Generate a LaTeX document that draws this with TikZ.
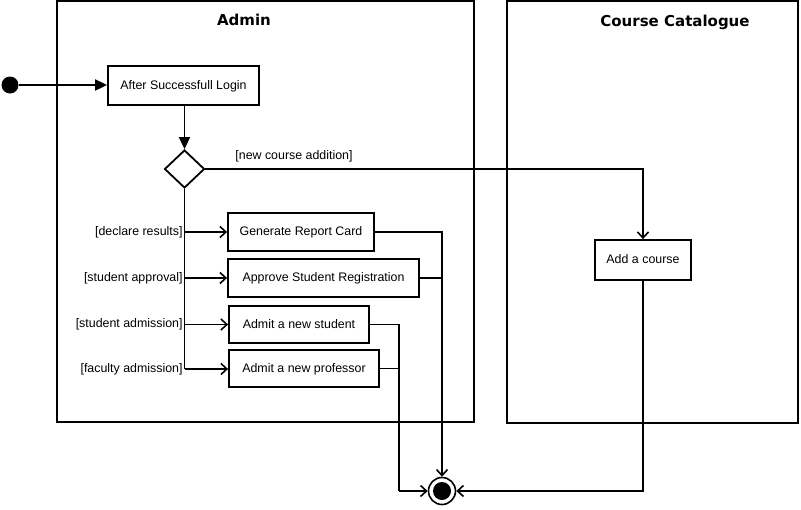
\documentclass[tikz,border=0pt]{standalone}
\usepackage{fontspec}
\setmainfont{Liberation Sans}
\newfontfamily\titlefont{DejaVu Sans}
\usetikzlibrary{arrows.meta,shapes.geometric}
\begin{document}
\begin{tikzpicture}[x=1pt,y=-1pt,line width=1.8pt,
  actbox/.style={draw,minimum width=#1,inner sep=0pt,text height=8.5pt,text depth=1pt,font=\fontsize{12.4}{14}\selectfont},
  guard/.style={font=\fontsize{12.4}{14}\selectfont,inner sep=1pt},
  lane/.style={draw,line width=2pt},
  lanetitle/.style={font=\titlefont\bfseries\fontsize{15}{17}\selectfont},
  openarrow/.style={-{Straight Barb[length=6pt,width=11pt,line width=1.6pt]}},
  fillarrow/.style={-{Triangle[length=12pt,width=11pt]}}]
\useasboundingbox (0,0) rectangle (801,509);
% swimlanes
\draw[lane] (57,1) rectangle (474,422);
\draw[lane] (507,1) rectangle (798,423);
\node[lanetitle] (tadmin) at (244,20) {Admin};
\node[lanetitle] (tcat) at (675,22) {Course Catalogue};
% nodes
\node[circle,fill=black,minimum size=17pt,inner sep=0pt] (init) at (10,85) {};
\node[actbox=151pt,minimum height=39pt] (login) at (183.5,85.5) {After Successfull Login};
\node[diamond,draw,minimum width=40pt,minimum height=38pt,inner sep=0pt] (dec) at (184.5,169) {};
\node[actbox=146pt,minimum height=38pt] (report) at (301,232) {Generate Report Card};
\node[actbox=191pt,minimum height=38pt] (approve) at (323.5,278) {Approve Student Registration};
\node[actbox=140pt,minimum height=37pt] (student) at (299,324.5) {Admit a new student};
\node[actbox=150pt,minimum height=37pt] (prof) at (304,368.5) {Admit a new professor};
\node[actbox=96pt,minimum height=40pt] (add) at (643,260) {Add a course};
\node[circle,draw,minimum size=27pt,inner sep=0pt,line width=1.6pt] (fin) at (442,491) {};
\node[circle,fill=black,minimum size=18pt,inner sep=0pt] (finin) at (fin) {};
\node[guard] (gnew) at (294,156) {[new course addition]};
% coordinates
\coordinate (tend) at (184.5,369);
\coordinate (j1) at (399,491);
% connectors
\draw[fillarrow] (init) -- (login.west |- init);
\draw[fillarrow] (login.south -| dec) -- (dec.north);
\draw[openarrow] (dec.east) -| (add.north);
\draw (dec.south) -- (tend);
\draw[openarrow] (dec |- report.west) node[guard,anchor=east] (g1) {[declare results]} -- (report.west);
\draw[openarrow] (dec |- approve.west) node[guard,anchor=east] (g2) {[student approval]} -- (approve.west);
\draw[openarrow] (dec |- student.west) node[guard,anchor=east] (g3) {[student admission]} -- (student.west);
\draw[openarrow] (tend) node[guard,anchor=east] (g4) {[faculty admission]} -- (tend -| prof.west);
\draw[openarrow] (report.east) -| (fin.north);
\draw (approve.east) -- (approve.east -| fin);
\draw (student.east) -| (j1);
\draw (prof.east) -- (prof.east -| j1);
\draw[openarrow] (j1) -- (fin.west);
\draw[openarrow] (add.south) |- (fin.east);
\end{tikzpicture}
\end{document}
